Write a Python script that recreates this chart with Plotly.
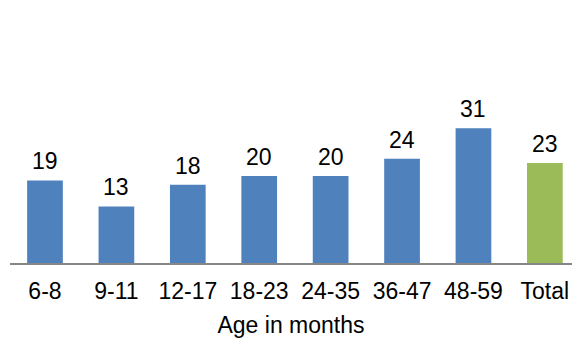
import plotly.graph_objects as go

categories = ["6-8", "9-11", "12-17", "18-23", "24-35", "36-47", "48-59", "Total"]
values = [19, 13, 18, 20, 20, 24, 31, 23]
labels = ["19", "13", "18", "20", "20", "24", "31", "23"]
axis_title = "Age in months"

BLUE = "#4F81BD"
GREEN = "#9BBB59"
colors = [GREEN if c == "Total" else BLUE for c in categories]

FONT = "Liberation Sans, Arial, sans-serif"
FS = 23

fig = go.Figure(
    go.Bar(
        x=categories,
        y=values,
        marker=dict(color=colors, line=dict(width=0)),
        width=0.5,
        cliponaxis=False,
        hoverinfo="x+y",
    )
)

for c, v, t in zip(categories, values, labels):
    fig.add_annotation(
        x=c, y=v, text=t, showarrow=False,
        xanchor="center", yanchor="bottom", yshift=4,
        font=dict(family=FONT, size=FS, color="#000000"),
    )

fig.update_layout(
    width=572,
    height=338,
    margin=dict(l=10, r=0, t=40, b=75),
    paper_bgcolor="white",
    plot_bgcolor="white",
    showlegend=False,
    font=dict(family=FONT, size=FS, color="#000000"),
)

fig.update_xaxes(
    type="category",
    range=[-0.49, 7.38],
    showline=True,
    linecolor="#868686",
    linewidth=1.5,
    ticks="outside",
    ticklen=7,
    tickcolor="rgba(0,0,0,0)",
    tickfont=dict(family=FONT, size=FS, color="#000000"),
    ticklabeloverflow="allow",
    title=dict(text=axis_title, font=dict(family=FONT, size=FS, color="#000000"), standoff=19),
    showgrid=False,
    zeroline=False,
    automargin=False,
)
fig.update_yaxes(
    range=[0, 51.3],
    visible=False,
    showgrid=False,
    zeroline=False,
)

page_fix = (
    "document.body.style.margin='0';"
    "document.body.style.overflow='hidden';"
    "document.documentElement.style.overflow='hidden';"
)

fig.write_html("out.html", post_script=page_fix, config={"displayModeBar": False})
